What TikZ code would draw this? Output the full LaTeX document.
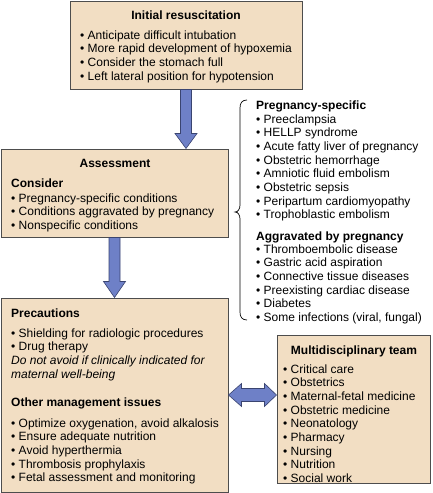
\documentclass[tikz,border=0pt]{standalone}
\usepackage{fontspec}
\setmainfont{Liberation Sans}
\usetikzlibrary{calc}
\definecolor{boxfill}{HTML}{F2DEC3}
\definecolor{boxline}{HTML}{4D4D4D}
\definecolor{arrfill}{HTML}{6E80C7}
\definecolor{arrline}{HTML}{3A4470}
\newcommand{\bl}{\textbullet\ }
\newcommand{\lines}[1]{\parbox[t]{230pt}{\raggedright #1}}
\begin{document}
\begin{tikzpicture}[x=1pt,y=-1pt,
  box/.style={draw=boxline, fill=boxfill, line width=1pt, inner sep=0pt, rectangle},
  txt/.style={inner sep=0pt, anchor=base west, font=\fontsize{12}{13.7}\selectfont},
  hd/.style={txt, font=\fontsize{12}{13.7}\selectfont\bfseries},
  ttl/.style={inner sep=0pt, anchor=base, font=\fontsize{12}{13.7}\selectfont\bfseries},
  barrow/.style={draw=arrline, fill=arrfill, line width=0.6pt, line join=miter}]
\useasboundingbox (0,0) rectangle (433,493);

% boxes
\node[box, minimum width=232pt, minimum height=88pt] (b1) at (186,45) {};
\node[box, minimum width=227pt, minimum height=88pt] (b2) at (114.5,193) {};
\node[box, minimum width=227pt, minimum height=194pt] (b3) at (114.5,395) {};
\node[box, minimum width=153pt, minimum height=148pt] (b4) at (353.5,409) {};

% box 1
\node[ttl] (t1) at (186,19) {Initial resuscitation};
\node[txt] (l1) at (80,39) {\lines{\bl Anticipate difficult intubation\\
\bl More rapid development of hypoxemia\\
\bl Consider the stomach full\\
\bl Left lateral position for hypotension}};

% box 2
\node[ttl] (t2) at (115,167) {Assessment};
\node[hd] (h2) at (11,187) {Consider};
\node[txt] (l2) at (11,202) {\lines{\bl Pregnancy-specific conditions\\
\bl Conditions aggravated by pregnancy\\
\bl Nonspecific conditions}};

% brace list
\node[hd] (h5) at (256,109) {Pregnancy-specific};
\node[txt] (l5) at (256,123) {\lines{\bl Preeclampsia\\
\bl HELLP syndrome\\
\bl Acute fatty liver of pregnancy\\
\bl Obstetric hemorrhage\\
\bl Amniotic fluid embolism\\
\bl Obstetric sepsis\\
\bl Peripartum cardiomyopathy\\
\bl Trophoblastic embolism}};
\node[hd] (h6) at (256,240) {Aggravated by pregnancy};
\node[txt] (l6) at (256,253) {\lines{\bl Thromboembolic disease\\
\bl Gastric acid aspiration\\
\bl Connective tissue diseases\\
\bl Preexisting cardiac disease\\
\bl Diabetes\\
\bl Some infections (viral, fungal)}};

% brace
\draw[line width=0.7pt, black] (247,100) .. controls (242,100) and (240,103) .. (240,108)
  -- (240,205) .. controls (240,209) and (238,212) .. (235,212)
  .. controls (238,212) and (240,215) .. (240,219)
  -- (240,312) .. controls (240,317) and (242,320) .. (247,320);

% box 3
\node[hd] (h3) at (11,317) {Precautions};
\node[txt] (l3) at (11,337) {\lines{\bl Shielding for radiologic procedures\\
\bl Drug therapy\\
\textit{Do not avoid if clinically indicated for}\\
\textit{maternal well-being}}};
\node[hd] (h4) at (11,406) {Other management issues};
\node[txt] (l4) at (11,427) {\lines{\bl Optimize oxygenation, avoid alkalosis\\
\bl Ensure adequate nutrition\\
\bl Avoid hyperthermia\\
\bl Thrombosis prophylaxis\\
\bl Fetal assessment and monitoring}};

% box 4
\node[ttl] (t7) at (354,354) {Multidisciplinary team};
\node[txt] (l7) at (283,373) {\lines{\bl Critical care\\
\bl Obstetrics\\
\bl Maternal-fetal medicine\\
\bl Obstetric medicine\\
\bl Neonatology\\
\bl Pharmacy\\
\bl Nursing\\
\bl Nutrition\\
\bl Social work}};

% arrow b1 -> b2
\draw[barrow] ($(b1.south)+(-5.5,0)$) -- ($(b2.north -| b1.south)+(-5.5,-15)$)
  -- ++(-5.5,0) -- (b2.north -| b1.south) -- ($(b2.north -| b1.south)+(11,-15)$)
  -- ++(-5.5,0) -- ($(b1.south)+(5.5,0)$) -- cycle;
% arrow b2 -> b3
\draw[barrow] ($(b2.south)+(-5.5,0)$) -- ($(b3.north)+(-5.5,-16)$)
  -- ++(-5.5,0) -- (b3.north) -- ($(b3.north)+(11,-16)$)
  -- ++(-5.5,0) -- ($(b2.south)+(5.5,0)$) -- cycle;
% double arrow b3 <-> b4
\draw[barrow] (b3.east) -- ($(b3.east)+(13,-11.5)$) -- ++(0,5) -- ($(b4.west |- b3.east)+(-12,-6.5)$)
  -- ++(0,-5) -- (b4.west |- b3.east) -- ($(b4.west |- b3.east)+(-12,11.5)$) -- ++(0,-5)
  -- ($(b3.east)+(13,6.5)$) -- ++(0,5) -- cycle;
\end{tikzpicture}
\end{document}
